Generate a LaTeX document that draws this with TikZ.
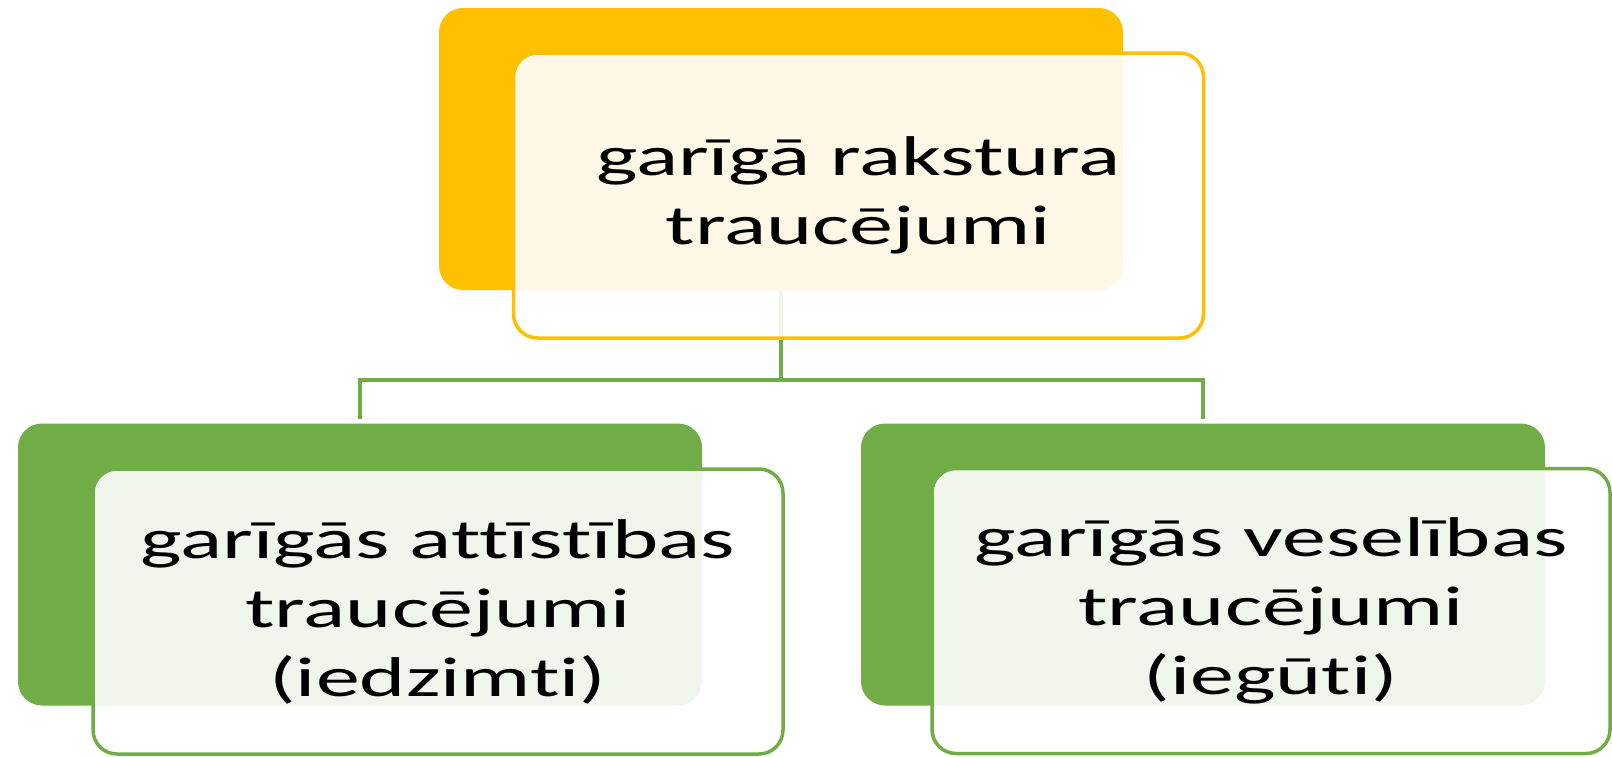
\documentclass[tikz,border=0pt]{standalone}
\usepackage{fontspec}
\setmainfont[FakeStretch=1.57, Ligatures=NoCommon]{Carlito}
\usepackage{tikz}
\definecolor{gold}{RGB}{255, 192, 0}
\definecolor{leaf}{RGB}{112, 173, 71}

\begin{document}
\begin{tikzpicture}[x=1pt, y=-1pt,
  back/.style={rounded corners=24pt, inner sep=0, outer sep=0, minimum width=684pt, minimum height=282pt},
  front/.style={rounded corners=24pt, draw, line width=3.5pt, fill=white, fill opacity=0.9, text opacity=1, inner sep=0, outer sep=0, minimum width=690pt, minimum height=285pt, align=center, font=\fontsize{56}{69}\selectfont},
  link/.style={draw=leaf, line width=4.5pt}]
  \useasboundingbox (0, 0) rectangle (1612, 756);

  % back boxes
  \node[back, fill=gold] (topback) at (781, 149) {};
  \foreach \n/\x in {leftback/360, rightback/1203} {
    \node[back, fill=leaf] (\n) at (\x, 564.5) {};
  }

  % connectors
  \coordinate (fork) at (781, 380);
  \draw[link] (topback.south) -- (fork);
  \draw[link, shorten >=5pt] (fork) -| (leftback.north);
  \draw[link, shorten >=5pt] (fork) -| (rightback.north);

  % front boxes
  \node[front, draw=gold] (top) at (858.5, 195.5) {garīgā rakstura\\traucējumi};
  \node[front, draw=leaf] (left) at (438, 611.5) {garīgās attīstības\\traucējumi\\(iedzimti)};
  \node[front, draw=leaf, minimum width=678pt] (right) at (1271, 611) {garīgās veselības\\traucējumi\\(iegūti)};
\end{tikzpicture}
\end{document}
